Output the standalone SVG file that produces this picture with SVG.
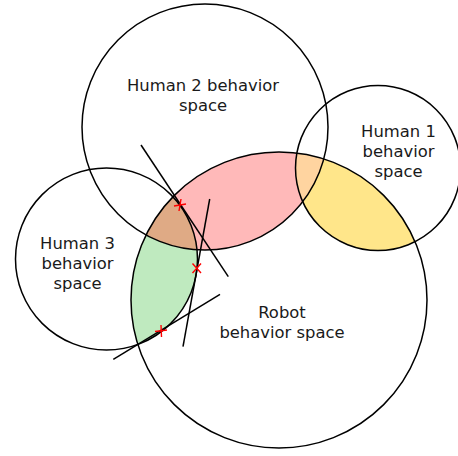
<svg xmlns="http://www.w3.org/2000/svg" width="458" height="456" viewBox="0 0 458 456">
<style>
.c{fill:none;stroke:#000;stroke-width:1.5}
.t{font-family:"DejaVu Sans",sans-serif;font-size:16.4px;fill:#1a1a1a;text-anchor:middle}
.ln{stroke:#000;stroke-width:1.5;fill:none}
.mk{stroke:#ff0000;stroke-width:1.4;fill:none}
</style>
<rect width="458" height="456" fill="#fff"/>
<g id="regions" stroke="none">
<path id="pink" fill="#ffb9b9" d="M172.9,196.8 A148,148 0 0 1 296.85,153.1 A82.5,82.5 0 0 0 302.7,201.7 A123,123 0 0 1 197.03,249.74 A91,91 0 0 0 172.9,196.8 Z"/>
<path id="peach" fill="#ffd4a0" d="M296.85,153.1 A148,148 0 0 1 323.77,158.93 A123,123 0 0 1 302.7,201.7 A82.5,82.5 0 0 1 296.85,153.1 Z"/>
<path id="yellow" fill="#ffe68a" d="M323.77,158.93 A148,148 0 0 1 415.05,241.7 A82.5,82.5 0 0 1 302.7,201.7 A123,123 0 0 0 323.77,158.93 Z"/>
<path id="brown" fill="#dfaa85" d="M172.9,196.8 A148,148 0 0 0 146.07,234.95 A123,123 0 0 0 197.03,249.74 A91,91 0 0 0 172.9,196.8 Z"/>
<path id="green" fill="#bfeabf" d="M146.07,234.95 A148,148 0 0 0 137.83,344.43 A91,91 0 0 0 197.03,249.74 A123,123 0 0 1 146.07,234.95 Z"/>
</g>
<g id="robot">
<circle class="c" cx="279" cy="300" r="148"/>
<text class="t" x="282" y="317.5">Robot</text>
<text class="t" x="282" y="337.5">behavior space</text>
</g>
<g id="human2">
<circle class="c" cx="205" cy="127" r="123"/>
<text class="t" x="203" y="91">Human 2 behavior</text>
<text class="t" x="203" y="110.5">space</text>
</g>
<g id="human1">
<circle class="c" cx="378" cy="168" r="82.5"/>
<text class="t" x="398.5" y="137">Human 1</text>
<text class="t" x="398.5" y="157">behavior</text>
<text class="t" x="398.5" y="176.5">space</text>
</g>
<g id="human3">
<circle class="c" cx="106.5" cy="259" r="91"/>
<text class="t" x="77.5" y="249">Human 3</text>
<text class="t" x="77.5" y="269">behavior</text>
<text class="t" x="77.5" y="288.5">space</text>
</g>
<g id="connectors">
<line class="ln" x1="141" y1="145" x2="228.3" y2="276.7"/>
<line class="ln" x1="209.7" y1="199" x2="183" y2="346.7"/>
<line class="ln" x1="113.3" y1="359.3" x2="220" y2="294.3"/>
</g>
<g id="marks">
<path class="mk" d="M174,206 L186,204 M181,199 L179,211"/>
<path class="mk" d="M192.5,263.5 L201,273 M201,263.5 L192.5,273"/>
<path class="mk" d="M155,331.5 L167,330 M161,325 L161.5,337"/>
</g>
</svg>
